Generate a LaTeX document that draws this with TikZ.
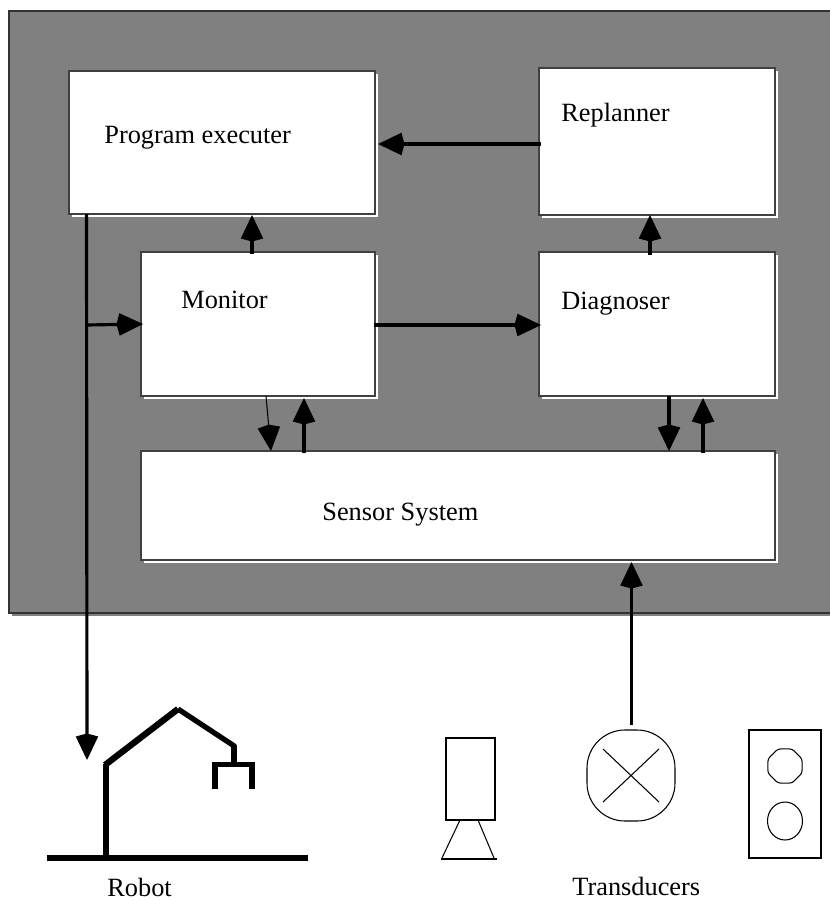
\documentclass[tikz,border=0pt]{standalone}
\usepackage{fontspec}
\setmainfont{Liberation Serif}
\usetikzlibrary{arrows.meta,calc,shadows}
\def\px{0.02cm}
\tikzset{
  panelbox/.style={draw=black!80, fill=black!50, line width=0.6pt, inner sep=0pt, outer sep=0pt,
    general shadow={fill=black!50, shadow xshift=0.06cm, shadow yshift=-0.06cm}},
  blockbox/.style={draw=black!75, fill=white, line width=0.6pt, inner sep=0pt, outer sep=0pt,
    general shadow={fill=white, shadow xshift=0.06cm, shadow yshift=-0.06cm}},
  blocklabel/.style={anchor=base west, inner sep=0pt, font=\fontsize{15}{18}\selectfont},
  flow/.style={-{Kite[length=5.3mm,width=4.5mm,inset=0.6mm]}, line width=1.8pt, black},
  thinflow/.style={flow, line width=0.6pt},
  robotline/.style={line width=3pt, black},
  sensorline/.style={line width=0.6pt, black}
}
\begin{document}
\begin{tikzpicture}[x=\px, y=-\px]
  \useasboundingbox (0,0) rectangle (829,900);
  % grey panel with the five blocks
  \node[panelbox, minimum width=825*\px, minimum height=602*\px] (panel) at (421.5,312) {};
  \node[blockbox, minimum width=306*\px, minimum height=143*\px] (executer) at (222,142.5) {};
  \node[blockbox, minimum width=236*\px, minimum height=147*\px] (replanner) at (657,141.5) {};
  \node[blockbox, minimum width=234*\px, minimum height=144*\px] (monitor) at (258,324) {};
  \node[blockbox, minimum width=236*\px, minimum height=144*\px] (diagnoser) at (657,324) {};
  \node[blockbox, minimum width=634*\px, minimum height=109*\px] (sensors) at (458,505.5) {};
  % block texts
  \node[blocklabel] (executertext) at (104,143) {Program executer};
  \node[blocklabel] (replannertext) at (561,121) {Replanner};
  \node[blocklabel] (monitortext) at (181,308) {Monitor};
  \node[blocklabel] (diagnosertext) at (561,309) {Diagnoser};
  \node[blocklabel] (sensorstext) at (322,520) {Sensor System};
  % free ends of the connectors
  \coordinate (robotin) at (87,760);
  \coordinate (branch) at (87,325);
  \coordinate (lampout) at (631.5,725);
  % connectors between the blocks
  \draw[flow] ($(executer.south west)+(17.5,0)$) -- (robotin);
  \draw[flow] (branch) -- ($(monitor.west)+(2,0)$);
  \draw[flow] ($(monitor.north west)+(111,2)$) -- ($(executer.south west)+(183,1)$);
  \draw[flow] ($(replanner.west)+(2,2.5)$) -- ($(executer.east)+(3,1.5)$);
  \draw[flow] ($(monitor.east)+(-1,1)$) -- ($(diagnoser.west)+(2,1)$);
  \draw[flow] ($(diagnoser.north west)+(111,3)$) -- ($(replanner.south west)+(111,0)$);
  \draw[thinflow] ($(monitor.south west)+(125,0)$) -- ($(sensors.north west)+(130,0)$);
  \draw[flow] ($(sensors.north west)+(163,2)$) -- ($(monitor.south west)+(163,2)$);
  \draw[flow] ($(diagnoser.south west)+(130,0)$) -- ($(sensors.north west)+(528,0)$);
  \draw[flow] ($(sensors.north west)+(562,2)$) -- ($(diagnoser.south west)+(164,2)$);
  \draw[flow] (lampout) -- ($(sensors.south west)+(490.5,2)$);
  % robot arm
  \draw[robotline, line width=3.3pt] (47,858) -- (308,858);
  \draw[robotline, line width=3.2pt] (106,858) -- (106,764);
  \draw[robotline, line width=3.6pt] (105,765) -- (178,709);
  \draw[robotline] (178,709) -- (235,746.5);
  \draw[robotline] (234,745) -- (234,765);
  \draw[robotline] (215,789) -- (215,764.5) -- (252,764.5) -- (252,789);
  % camera
  \draw[sensorline] (446,738) rectangle (495,820);
  \draw[sensorline] (460,820) -- (442,858);
  \draw[sensorline] (478,820) -- (494,858);
  \draw[line width=1.5pt] (441,859) -- (497,859);
  % lamp
  \draw[sensorline, rounded corners=0.76cm] (587,730) rectangle (675,821);
  \draw[sensorline] (603,749) -- (659,802);
  \draw[sensorline] (659,749) -- (603,802);
  % double socket
  \draw[sensorline] (749,730) rectangle (821,858);
  \draw[sensorline, rounded corners=1.5pt] (785,766) +(22.5:18.5) -- +(67.5:18.5) -- +(112.5:18.5) -- +(157.5:18.5)
    -- +(202.5:18.5) -- +(247.5:18.5) -- +(292.5:18.5) -- +(337.5:18.5) -- cycle;
  \draw[sensorline] (785,821) ellipse (17.5 and 19);
  % captions
  \node[blocklabel] (robottext) at (107,896) {Robot};
  \node[blocklabel] (transducertext) at (572,895) {Transducers};
\end{tikzpicture}
\end{document}
